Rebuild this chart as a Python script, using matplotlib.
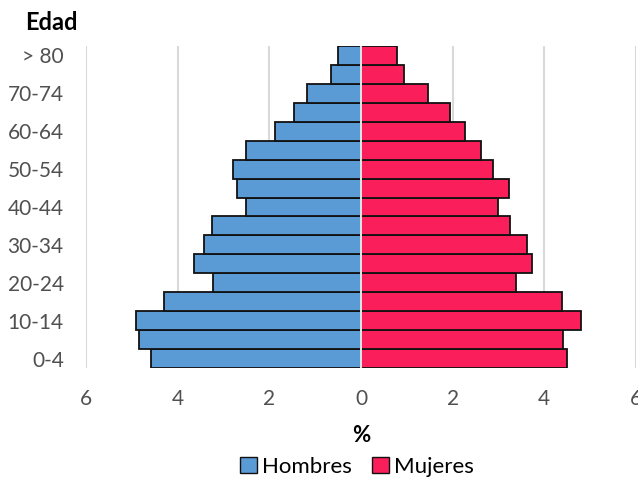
import matplotlib
matplotlib.use("Agg")
import matplotlib.pyplot as plt
import numpy as np
from matplotlib.patches import Patch

plt.rcParams['font.family'] = ['Lato', 'DejaVu Sans']

age_groups = ["0-4", "5-9", "10-14", "15-19", "20-24", "25-29", "30-34", "35-39",
              "40-44", "45-49", "50-54", "55-59", "60-64", "65-69", "70-74", "75-79", "> 80"]
hombres = [4.59, 4.84, 4.91, 4.30, 3.22, 3.65, 3.43, 3.25,
           2.51, 2.70, 2.79, 2.50, 1.88, 1.46, 1.18, 0.66, 0.51]
mujeres = [4.50, 4.41, 4.81, 4.39, 3.38, 3.72, 3.62, 3.25,
           2.98, 3.22, 2.88, 2.61, 2.26, 1.94, 1.47, 0.93, 0.78]
x_ticks = [-6, -4, -2, 0, 2, 4, 6]
x_tick_labels = ["6", "4", "2", "0", "2", "4", "6"]

blue = "#5b9bd5"
pink = "#fa1f5b"
grid_c = "#d9d9d9"
text_c = "#505050"

fig = plt.figure(figsize=(6.38, 4.79), dpi=100)
ax = fig.add_axes([86/638, 1-368/479, (636-86)/638, (368-46)/479])

y = np.arange(len(age_groups))
ax.barh(y, [-v for v in hombres], height=1.0, color=blue, edgecolor="#111111", linewidth=1.3, zorder=2)
ax.barh(y, mujeres, height=1.0, color=pink, edgecolor="#111111", linewidth=1.3, zorder=2)
ax.axvline(0, color="#e8e8e8", linewidth=1.4, zorder=3)

ax.set_xlim(-6, 6)
ax.set_ylim(-0.5, len(age_groups) - 0.5)
ax.set_xticks(x_ticks)
ax.set_xticklabels(x_tick_labels)
ax.set_yticks(y[::2])
ax.set_yticklabels(age_groups[::2])
ax.tick_params(axis='both', length=0, labelsize=15, labelcolor=text_c)
ax.tick_params(axis='x', pad=15)
ax.tick_params(axis='y', pad=16)
for s in ax.spines.values():
    s.set_visible(False)
ax.xaxis.grid(True, color=grid_c, linewidth=1.5, zorder=0)
ax.set_axisbelow(True)

fig.text(51/638, 1-22/479, "Edad", fontsize=17, fontweight='bold', ha='center', va='center', color='black')
fig.text(361/638, 1-436/479, "%", fontsize=16, fontweight='bold', ha='center', va='center', color='black')

handles = [Patch(facecolor=blue, edgecolor='#111111', linewidth=1.0, label="Hombres"),
           Patch(facecolor=pink, edgecolor='#111111', linewidth=1.0, label="Mujeres")]
fig.legend(handles=handles, loc='center', bbox_to_anchor=(357/638, 1-467/479), ncol=2, frameon=False,
           fontsize=16, handlelength=0.75, handleheight=0.75, handletextpad=0.25, columnspacing=0.9,
           labelcolor='black')

fig.savefig("out.png", dpi=100)
